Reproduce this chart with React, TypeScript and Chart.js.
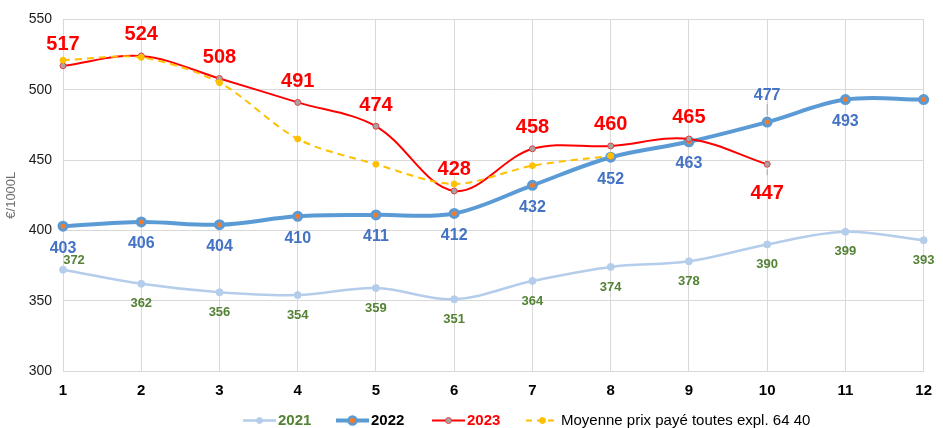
import React, { useEffect, useRef } from "react";
import { Chart, registerables } from "chart.js";

Chart.register(...registerables);

// ---- Data ----
const months = ["1", "2", "3", "4", "5", "6", "7", "8", "9", "10", "11", "12"];
const values2021 = [372, 362, 356, 354, 359, 351, 364, 374, 378, 390, 399, 393];
const values2022 = [403, 406, 404, 410, 411, 412, 432, 452, 463, 477, 493, 493];
const values2023 = [517, 524, 508, 491, 474, 428, 458, 460, 465, 447, null, null];
const valuesAvg = [521, 523, 505, 465, 447, 433, 446, 453, null, null, null, null];
const yMin = 300;
const yMax = 550;
const yStep = 50;
const yTitle = "€/1000L";
const legendNames = ["2021", "2022", "2023", "Moyenne prix payé toutes expl. 64 40"];

const FONT = "'Liberation Sans', Arial, sans-serif";
const GRID = "#D9D9D9";

type Override = { dx?: number; dy?: number; leader?: [number, number]; hide?: boolean };
type LabelCfg = { font: string; color: string; dx: number; dy: number; overrides: Record<number, Override> };

const labelCfgs: (LabelCfg | null)[] = [
  {
    font: `bold 13px ${FONT}`,
    color: "#548235",
    dx: 0,
    dy: 20,
    overrides: { 0: { dx: 11, dy: -9 } },
  },
  {
    font: `bold 16px ${FONT}`,
    color: "#4472C4",
    dx: 0,
    dy: 22,
    overrides: { 9: { dy: -26, leader: [-18, -7] }, 11: { hide: true } },
  },
  {
    font: `bold 20px ${FONT}`,
    color: "#FF0000",
    dx: 0,
    dy: -21,
    overrides: { 9: { dy: 29, leader: [5, 11] } },
  },
  null,
];

const dataLabelPlugin = {
  id: "dataLabels",
  afterDatasetsDraw(chart: any) {
    const ctx = chart.ctx;
    chart.data.datasets.forEach((ds: any, di: number) => {
      const cfg = labelCfgs[di];
      if (!cfg) return;
      const meta = chart.getDatasetMeta(di);
      ctx.save();
      ctx.font = cfg.font;
      ctx.fillStyle = cfg.color;
      ctx.textAlign = "center";
      ctx.textBaseline = "middle";
      meta.data.forEach((pt: any, i: number) => {
        const v = ds.data[i];
        if (v === null || v === undefined) return;
        const o = cfg.overrides[i] || {};
        if (o.hide) return;
        const x = pt.x + (o.dx ?? cfg.dx);
        const y = pt.y + (o.dy ?? cfg.dy);
        if (o.leader) {
          ctx.save();
          ctx.strokeStyle = "#A6A6A6";
          ctx.lineWidth = 1;
          ctx.beginPath();
          ctx.moveTo(pt.x, pt.y + o.leader[0]);
          ctx.lineTo(pt.x, pt.y + o.leader[1]);
          ctx.stroke();
          ctx.restore();
        }
        ctx.fillText(String(v), x, y);
      });
      ctx.restore();
    });
  },
};

const legendItems = [
  { x: 243, color: "#B4CDEB", width: 2.5, dash: [] as number[], r: 3, fill: "#B4CDEB", stroke: "#B4CDEB", bw: 1, text: "#548235", font: `bold 15px ${FONT}` },
  { x: 336, color: "#5B9BD5", width: 4, dash: [] as number[], r: 4, fill: "#ED7D31", stroke: "#5B9BD5", bw: 2.5, text: "#000000", font: `bold 15px ${FONT}` },
  { x: 432, color: "#FF0000", width: 2, dash: [] as number[], r: 3, fill: "#A5A5A5", stroke: "#E04040", bw: 1, text: "#FF0000", font: `bold 15px ${FONT}` },
  { x: 526, color: "#FFC000", width: 2, dash: [6, 5], r: 3, fill: "#FFC000", stroke: "#FFC000", bw: 1, text: "#000000", font: `15px ${FONT}` },
];

const legendPlugin = {
  id: "customLegend",
  afterDraw(chart: any) {
    const ctx = chart.ctx;
    const y = 420.5;
    legendItems.forEach((it, i) => {
      ctx.save();
      ctx.strokeStyle = it.color;
      ctx.lineWidth = it.width;
      ctx.setLineDash(it.dash);
      ctx.beginPath();
      ctx.moveTo(it.x, y);
      ctx.lineTo(it.x + 33, y);
      ctx.stroke();
      ctx.setLineDash([]);
      ctx.beginPath();
      ctx.arc(it.x + 16.5, y, it.r, 0, Math.PI * 2);
      ctx.fillStyle = it.fill;
      ctx.fill();
      ctx.lineWidth = it.bw;
      ctx.strokeStyle = it.stroke;
      ctx.stroke();
      ctx.font = it.font;
      ctx.fillStyle = it.text;
      ctx.textAlign = "left";
      ctx.textBaseline = "middle";
      ctx.fillText(legendNames[i], it.x + 35, y);
      ctx.restore();
    });
  },
};

export default function App() {
  const ref = useRef<HTMLCanvasElement | null>(null);
  useEffect(() => {
    document.body.style.margin = "0";
    if (!ref.current) return;
    const chart = new Chart(ref.current, {
      type: "line",
      data: {
        labels: months,
        datasets: [
          {
            label: legendNames[0],
            data: values2021,
            borderColor: "#B4CDEB",
            backgroundColor: "#B4CDEB",
            borderWidth: 2.5,
            pointRadius: 3.5,
            pointBorderWidth: 1,
            pointBackgroundColor: "#B4CDEB",
            pointBorderColor: "#B4CDEB",
            tension: 0.35,
            order: 4,
          },
          {
            label: legendNames[1],
            data: values2022,
            borderColor: "#5B9BD5",
            backgroundColor: "#5B9BD5",
            borderWidth: 4,
            pointRadius: 4,
            pointBorderWidth: 3,
            pointBackgroundColor: "#ED7D31",
            pointBorderColor: "#5B9BD5",
            tension: 0.35,
            order: 3,
          },
          {
            label: legendNames[2],
            data: values2023,
            borderColor: "#FF0000",
            backgroundColor: "#FF0000",
            borderWidth: 2,
            pointRadius: 3,
            pointBorderWidth: 1,
            pointBackgroundColor: "#A5A5A5",
            pointBorderColor: "#E04040",
            tension: 0.35,
            order: 2,
          },
          {
            label: legendNames[3],
            data: valuesAvg,
            borderColor: "#FFC000",
            backgroundColor: "#FFC000",
            borderWidth: 2,
            borderDash: [7, 5],
            pointRadius: 3,
            pointBorderWidth: 1,
            pointBackgroundColor: "#FFC000",
            pointBorderColor: "#FFC000",
            tension: 0.3,
            order: 1,
          },
        ],
      },
      options: {
        responsive: false,
        animation: false,
        layout: { padding: { top: 17, right: 11, left: 0, bottom: 0 } },
        plugins: {
          legend: { display: false },
          tooltip: { enabled: false },
        },
        scales: {
          x: {
            type: "category",
            offset: false,
            grid: { color: GRID, drawTicks: false, lineWidth: 1 },
            border: { color: GRID },
            ticks: {
              padding: 11,
              color: "#000000",
              font: { family: FONT, size: 15, weight: "bold" },
              maxRotation: 0,
              autoSkip: false,
            },
            afterFit(scale: any) {
              scale.height = 57;
            },
          },
          y: {
            min: yMin,
            max: yMax,
            grid: { color: GRID, drawTicks: false, lineWidth: 1 },
            border: { color: GRID },
            ticks: {
              stepSize: yStep,
              padding: 11,
              color: "#1A1A1A",
              font: { family: FONT, size: 14 },
            },
            title: {
              display: true,
              text: yTitle,
              color: "#6F6F6F",
              font: { family: FONT, size: 13 },
              padding: { top: 4, bottom: 0 },
            },
            afterFit(scale: any) {
              scale.width = 63;
            },
          },
        },
      } as any,
      plugins: [dataLabelPlugin, legendPlugin],
    });
    return () => chart.destroy();
  }, []);
  return (
    <div style={{ width: 943, height: 428 }}>
      <canvas ref={ref} width={943} height={428} style={{ display: "block" }} />
    </div>
  );
}
